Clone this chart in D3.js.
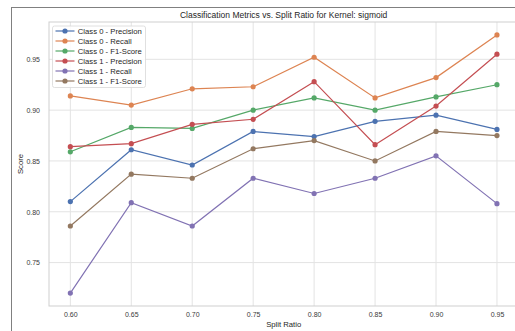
<!DOCTYPE html>
<html>
<head>
<meta charset="utf-8">
<script src="https://cdn.jsdelivr.net/npm/d3@7"></script>
<style>
  html, body { margin: 0; padding: 0; background: #fff; }
  svg { display: block; font-family: "Liberation Sans", Arial, sans-serif; }
</style>
</head>
<body>
<svg id="chart" width="515" height="331"></svg>
<script>
// Split ratios on the x axis
const splitRatios = [0.60, 0.65, 0.70, 0.75, 0.80, 0.85, 0.90, 0.95];

// Metric values per split ratio
const class0Precision = [0.810, 0.861, 0.846, 0.879, 0.874, 0.889, 0.895, 0.881];
const class0Recall    = [0.914, 0.905, 0.921, 0.923, 0.952, 0.912, 0.932, 0.974];
const class0F1        = [0.859, 0.883, 0.882, 0.900, 0.912, 0.900, 0.913, 0.925];
const class1Precision = [0.864, 0.867, 0.886, 0.891, 0.928, 0.866, 0.904, 0.955];
const class1Recall    = [0.720, 0.809, 0.786, 0.833, 0.818, 0.833, 0.855, 0.808];
const class1F1        = [0.786, 0.837, 0.833, 0.862, 0.870, 0.850, 0.879, 0.875];

const seriesNames = [
  "Class 0 - Precision", "Class 0 - Recall", "Class 0 - F1-Score",
  "Class 1 - Precision", "Class 1 - Recall", "Class 1 - F1-Score"
];
const seriesColors = ["#4C72B0", "#DD8452", "#55A868", "#C44E52", "#8172B3", "#937860"];
const xTicks = [0.60, 0.65, 0.70, 0.75, 0.80, 0.85, 0.90, 0.95];
const yTicks = [0.75, 0.80, 0.85, 0.90, 0.95];

const series = [class0Precision, class0Recall, class0F1, class1Precision, class1Recall, class1F1]
  .map((vals, i) => ({ name: seriesNames[i], color: seriesColors[i], values: vals }));

const svg = d3.select("#chart");

// Outer figure frame
svg.append("rect")
  .attr("x", 11.5).attr("y", 7.5)
  .attr("width", 560).attr("height", 360)
  .attr("fill", "none").attr("stroke", "#808080").attr("stroke-width", 1);

const plot = { left: 49, top: 22, right: 518.3, bottom: 306 };

// Axis domains padded 5% like the plotting defaults
const xPad = (d3.max(splitRatios) - d3.min(splitRatios)) * 0.05;
const allVals = series.flatMap(s => s.values);
const yMin = d3.min(allVals), yMax = d3.max(allVals);
const yPad = (yMax - yMin) * 0.05;

const x = d3.scaleLinear()
  .domain([d3.min(splitRatios) - xPad, d3.max(splitRatios) + xPad])
  .range([plot.left, plot.right]);
const y = d3.scaleLinear()
  .domain([yMin - yPad, yMax + yPad])
  .range([plot.bottom, plot.top]);

// Grid
const grid = svg.append("g").attr("class", "grid");
grid.selectAll("line.gx").data(xTicks).join("line")
  .attr("x1", d => x(d)).attr("x2", d => x(d))
  .attr("y1", plot.top).attr("y2", plot.bottom)
  .attr("stroke", "#e3e3e3").attr("stroke-width", 1);
grid.selectAll("line.gy").data(yTicks).join("line")
  .attr("x1", plot.left).attr("x2", plot.right)
  .attr("y1", d => y(d)).attr("y2", d => y(d))
  .attr("stroke", "#e3e3e3").attr("stroke-width", 1);

// Plot frame
svg.append("rect")
  .attr("x", plot.left).attr("y", plot.top)
  .attr("width", plot.right - plot.left).attr("height", plot.bottom - plot.top)
  .attr("fill", "none").attr("stroke", "#cfcfcf").attr("stroke-width", 1);

// Axes (labels only; the frame draws the spines)
const xAxis = svg.append("g")
  .attr("transform", `translate(0,${plot.bottom})`)
  .call(d3.axisBottom(x).tickValues(xTicks).tickFormat(d3.format(".2f")).tickSize(0).tickPadding(6));
const yAxis = svg.append("g")
  .attr("transform", `translate(${plot.left},0)`)
  .call(d3.axisLeft(y).tickValues(yTicks).tickFormat(d3.format(".2f")).tickSize(0).tickPadding(9));
[xAxis, yAxis].forEach(a => {
  a.select(".domain").remove();
  a.selectAll("text")
    .attr("fill", "#3a3a3a")
    .style("font-size", "7px")
    .style("font-family", "'Liberation Sans', Arial, sans-serif");
});

// Lines and markers
const line = d3.line()
  .x((d, i) => x(splitRatios[i]))
  .y(d => y(d));

const sg = svg.append("g").selectAll("g").data(series).join("g");
sg.append("path")
  .attr("d", d => line(d.values))
  .attr("fill", "none")
  .attr("stroke", d => d.color)
  .attr("stroke-width", 1.2);
sg.selectAll("circle")
  .data(d => d.values.map((v, i) => ({ v, i, color: d.color })))
  .join("circle")
  .attr("cx", d => x(splitRatios[d.i]))
  .attr("cy", d => y(d.v))
  .attr("r", 2.6)
  .attr("fill", d => d.color);

// Title and axis labels
svg.append("text")
  .attr("x", (plot.left + plot.right) / 2).attr("y", 18)
  .attr("text-anchor", "middle")
  .attr("fill", "#262626")
  .style("font-size", "8.5px")
  .text("Classification Metrics vs. Split Ratio for Kernel: sigmoid");

svg.append("text")
  .attr("x", (plot.left + plot.right) / 2).attr("y", 327)
  .attr("text-anchor", "middle")
  .attr("fill", "#262626")
  .style("font-size", "7.7px")
  .text("Split Ratio");

svg.append("text")
  .attr("transform", `translate(22.5,${(plot.top + plot.bottom) / 2}) rotate(-90)`)
  .attr("text-anchor", "middle")
  .attr("fill", "#262626")
  .style("font-size", "7.7px")
  .text("Score");

// Legend
const legend = svg.append("g").attr("transform", "translate(52.5,26)");
legend.append("rect")
  .attr("width", 93).attr("height", 61.5)
  .attr("rx", 2)
  .attr("fill", "#fff").attr("fill-opacity", 0.85)
  .attr("stroke", "#d8d8d8").attr("stroke-width", 0.8);
const items = legend.selectAll("g.item").data(series).join("g")
  .attr("transform", (d, i) => `translate(0,${5 + i * 10})`);
items.append("line")
  .attr("x1", 3).attr("x2", 22).attr("y1", 0).attr("y2", 0)
  .attr("stroke", d => d.color).attr("stroke-width", 1.2);
items.append("circle")
  .attr("cx", 12.5).attr("cy", 0).attr("r", 2.6)
  .attr("fill", d => d.color);
items.append("text")
  .attr("x", 25.3).attr("y", 2.7)
  .attr("fill", "#262626")
  .style("font-size", "7.7px")
  .text(d => d.name);
</script>
</body>
</html>
